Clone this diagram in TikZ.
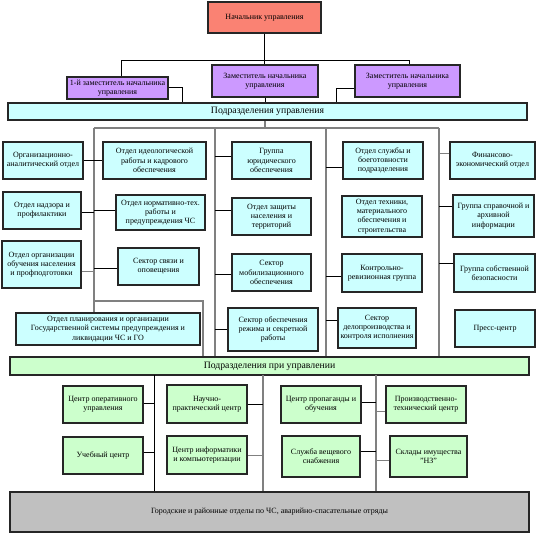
\documentclass[tikz,border=0pt]{standalone}
\usepackage{fontspec}
\setmainfont{Liberation Serif}
\definecolor{salmonbox}{RGB}{250,130,115}
\definecolor{purplebox}{RGB}{204,153,255}
\definecolor{cyanbox}{RGB}{204,255,255}
\definecolor{greenbox}{RGB}{204,255,204}
\definecolor{graybox}{RGB}{192,192,192}
\definecolor{trunkgray}{RGB}{128,128,128}
\newcommand\bx[7]{%
  \pgfmathsetmacro\bxcx{(#2+#4)/2}%
  \pgfmathsetmacro\bxcy{(#3+#5)/2}%
  \pgfmathsetmacro\bxw{(#4-#2)*0.75}%
  \pgfmathsetmacro\bxh{(#5-#3)*0.75}%
  \node[#6,minimum width=\bxw pt,minimum height=\bxh pt] (#1) at (\bxcx,\bxcy) {#7};}
\begin{document}
\begin{tikzpicture}[x=0.75pt,y=-0.75pt,
  box/.style={draw=black!85,line width=0.85pt,align=center,inner sep=0pt,
    font=\fontsize{6}{6.9}\selectfont},
  topbox/.style={box,fill=salmonbox},
  depbox/.style={box,fill=purplebox},
  cybox/.style={box,fill=cyanbox},
  grbox/.style={box,fill=greenbox},
  bigbar/.style={box,font=\fontsize{7.3}{9}\selectfont},
  botbox/.style={box,fill=graybox,line width=1pt},
  conn/.style={draw=black,line width=0.6pt},
  gconn/.style={draw=trunkgray,line width=0.7pt},
  trunk/.style={draw=trunkgray,line width=0.8pt}]
\useasboundingbox (0,0) rectangle (537,535);
% top
\bx{boss}{208}{2}{321}{33}{topbox}{Начальник управления}
\bx{dep1}{67}{77}{168}{99}{depbox}{1-й заместитель начальника\\управления}
\bx{dep2}{212}{65}{318}{97}{depbox}{Заместитель начальника\\управления}
\bx{dep3}{355}{65}{460}{97}{depbox}{Заместитель начальника\\управления}
\bx{bar1}{8}{103}{527}{120}{bigbar,fill=cyanbox}{Подразделения управления}
% upper boxes
\bx{org}{3}{142}{83}{179}{cybox}{Организационно-\\аналитический отдел}
\bx{nadz}{3}{192}{81}{229}{cybox}{Отдел надзора и\\профилактики}
\bx{obuch}{2}{241}{81}{288}{cybox}{Отдел организации\\обучения населения\\и профподготовки}
\bx{plan}{16}{313}{200}{345}{cybox}{Отдел планирования и организации\\Государственной системы предупреждения и\\ликвидации ЧС и ГО}
\bx{ideo}{103}{142}{206}{179}{cybox}{Отдел идеологической\\работы и кадрового\\обеспечения}
\bx{norm}{116}{195}{205}{230}{cybox}{Отдел нормативно-тех.\\работы и\\предупреждения ЧС}
\bx{svyaz}{118}{248}{199}{285}{cybox}{Сектор связи и\\оповещения}
\bx{yur}{232}{142}{311}{179}{cybox}{Группа\\юридического\\обеспечения}
\bx{zash}{232}{198}{311}{235}{cybox}{Отдел защиты\\населения и\\территорий}
\bx{mob}{232}{254}{311}{291}{cybox}{Сектор\\мобилизационного\\обеспечения}
\bx{rezh}{228}{308}{318}{351}{cybox}{Сектор обеспечения\\режима и секретной\\работы}
\bx{sluzh}{343}{142}{423}{179}{cybox}{Отдел службы и\\боеготовности\\подразделения}
\bx{tekh}{342}{196}{422}{237}{cybox}{Отдел техники,\\материального\\обеспечения и\\строительства}
\bx{krg}{342}{254}{422}{292}{cybox}{Контрольно-\\ревизионная группа}
\bx{delo}{338}{308}{416}{348}{cybox}{Сектор\\делопроизводства и\\контроля исполнения}
\bx{fin}{450}{142}{535}{179}{cybox}{Финансово-\\экономический отдел}
\bx{sprav}{453}{195}{534}{237}{cybox}{Группа справочной и\\архивной\\информации}
\bx{sobst}{454}{254}{535}{292}{cybox}{Группа собственной\\безопасности}
\bx{press}{455}{310}{535}{347}{cybox}{Пресс-центр}
% lower
\bx{bar2}{10}{357}{529}{375}{bigbar,fill=greenbox}{Подразделения при управлении}
\bx{oper}{63}{386}{143}{423}{grbox}{Центр оперативного\\управления}
\bx{ucheb}{63}{437}{143}{474}{grbox}{Учебный центр}
\bx{nauch}{167}{385}{247}{423}{grbox}{Научно-\\практический центр}
\bx{inform}{167}{436}{247}{474}{grbox}{Центр информатики\\и компьютеризации}
\bx{prop}{281}{386}{361}{423}{grbox}{Центр пропаганды и\\обучения}
\bx{vesh}{282}{436}{360}{477}{grbox}{Служба вещевого\\снабжения}
\bx{proizv}{386}{386}{466}{423}{grbox}{Производственно-\\технический центр}
\bx{sklad}{390}{436}{467}{477}{grbox}{Склады имущества\\"НЗ"}
\bx{bot}{10}{492}{529}{532}{botbox}{Городские и районные отделы по ЧС, аварийно-спасательные отряды}
% top connectors
\coordinate (JL) at (121,60);
\coordinate (JR) at (409,60);
\coordinate (D1) at (182,87);
\coordinate (D3) at (336,88);
\draw[conn] (boss.south) -- (boss.south |- dep2.north);
\draw[conn] (JL |- dep1.north) -- (JL) -- (JR) -- (JR |- dep3.north);
\draw[conn] (dep1.east |- D1) -- (D1) -- (D1 |- bar1.north);
\draw[conn] (dep2.south) -- (dep2.south |- bar1.north);
\draw[conn] (dep3.west |- D3) -- (D3) -- (D3 |- bar1.north);
% upper trunks
\coordinate (B1) at (265,128);
\coordinate (T1) at (94,128);
\coordinate (T2) at (215,128);
\coordinate (T3) at (326,128);
\coordinate (T4) at (439,128);
\coordinate (P1) at (94,301);
\coordinate (P2) at (203,301);
\draw[trunk] (B1 |- bar1.south) -- (B1);
\draw[trunk] (T1) -- (T4);
\draw[trunk] (T1) -- (T1 |- plan.north);
\draw[trunk] (P1) -- (P2) -- (P2 |- bar2.north);
\draw[trunk] (T2) -- (T2 |- bar2.north);
\draw[trunk] (T3) -- (T3 |- bar2.north);
\draw[trunk] (T4) -- (T4 |- bar2.north);
% upper connectors
\draw[conn] (org.east |- 0,160) -- (ideo.west |- 0,160);
\draw[conn] (nadz.east |- 0,212) -- (T1 |- 0,212);
\draw[conn] (norm.west |- 0,210) -- (T1 |- 0,210);
\draw[gconn] (obuch.east |- 0,271) -- (T1 |- 0,271);
\draw[conn] (svyaz.west |- 0,268) -- (T1 |- 0,268);
\draw[conn] (yur.west |- 0,156) -- (T2 |- 0,156);
\draw[conn] (zash.west |- 0,210) -- (T2 |- 0,210);
\draw[conn] (mob.west |- 0,274) -- (T2 |- 0,274);
\draw[conn] (rezh.west |- 0,329) -- (T2 |- 0,329);
\draw[conn] (sluzh.west |- 0,167) -- (T3 |- 0,167);
\draw[conn] (krg.west |- 0,276) -- (T3 |- 0,276);
\draw[conn] (delo.west |- 0,320) -- (T3 |- 0,320);
\draw[gconn] (fin.west |- 0,153) -- (T4 |- 0,153);
\draw[conn] (sprav.west |- 0,206) -- (T4 |- 0,206);
\draw[conn] (sobst.west |- 0,263) -- (T4 |- 0,263);
% lower trunks
\coordinate (L1) at (154,375);
\coordinate (L2) at (263,375);
\coordinate (L3) at (376,375);
\draw[conn] (L1) -- (L1 |- bot.north);
\draw[trunk] (L2) -- (L2 |- bot.north);
\draw[trunk] (L3) -- (L3 |- bot.north);
% lower connectors
\draw[conn] (oper.east |- 0,403) -- (L1 |- 0,403);
\draw[conn] (ucheb.east |- 0,452) -- (L1 |- 0,452);
\draw[conn] (nauch.east |- 0,404) -- (L2 |- 0,404);
\draw[gconn] (inform.east |- 0,455) -- (L2 |- 0,455);
\draw[conn] (prop.east |- 0,402) -- (L3 |- 0,402);
\draw[conn] (vesh.east |- 0,451) -- (L3 |- 0,451);
\draw[gconn] (proizv.west |- 0,411) -- (L3 |- 0,411);
\draw[gconn] (sklad.west |- 0,460) -- (L3 |- 0,460);
\end{tikzpicture}
\end{document}
